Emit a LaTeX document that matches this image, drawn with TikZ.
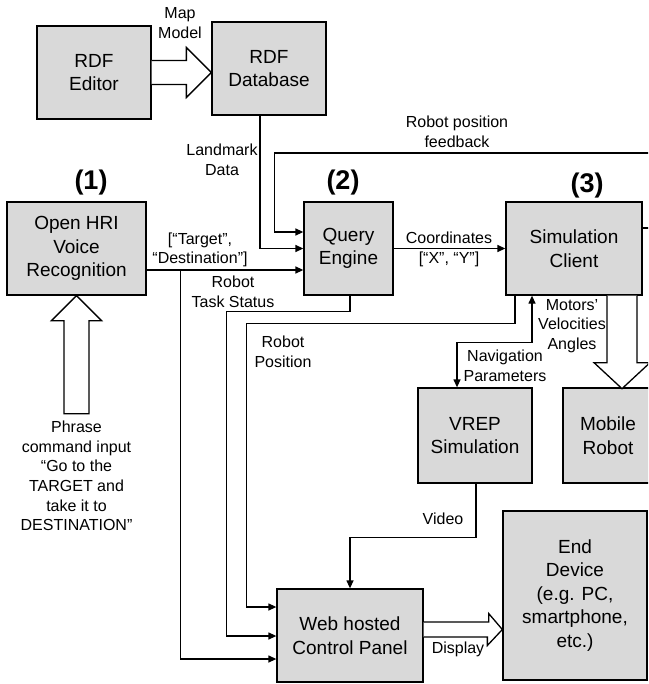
\documentclass[tikz,border=0pt]{standalone}
\usepackage{fontspec}
\setmainfont{Liberation Sans}
\usetikzlibrary{arrows.meta,calc}
\definecolor{boxgray}{HTML}{D9D9D9}
\begin{document}
\begin{tikzpicture}[x=1pt,y=-1pt,
 box/.style={draw,fill=boxgray,line width=1.3pt,align=center,font=\fontsize{19}{23.5}\selectfont,inner sep=0pt},
 lab/.style={align=center,font=\fontsize{16}{19.6}\selectfont,inner sep=0pt},
 num/.style={font=\fontsize{27}{30}\selectfont\bfseries,inner sep=0pt},
 conn/.style={line width=1.3pt,-{Triangle[length=8pt,width=7pt]}},
 hollow/.style={draw,fill=white,line width=1.3pt,line join=miter}]
\useasboundingbox (0,0) rectangle (648,684);
\clip (0,0) rectangle (648,684);
\fill[white] (0,0) rectangle (648,684);

% boxes
\node[box,minimum width=114pt,minimum height=93pt] (ed) at (94,72.5) {RDF\\Editor};
\node[box,minimum width=114pt,minimum height=93pt] (db) at (269,68.5) {RDF\\Database};
\node[box,minimum width=139pt,minimum height=93pt] (hri) at (76.5,248.5) {Open HRI\\Voice\\Recognition};
\node[box,minimum width=89pt,minimum height=93pt] (qe) at (348.5,248.5) {Query\\Engine};
\node[box,minimum width=136pt,minimum height=93pt] (sc) at (574,248.5) {Simulation\\Client};
\node[box,minimum width=114pt,minimum height=95pt] (vrep) at (475,435.5) {VREP\\Simulation};
\node[box,minimum width=90pt,minimum height=95pt] (mr) at (608,435.5) {Mobile\\Robot};
\node[box,minimum width=146pt,minimum height=93pt] (web) at (350,635.5) {Web hosted\\Control Panel};
\node[box,minimum width=144pt,minimum height=169pt] (end) at (575,595.5) {End\\Device\\(e.g. PC,\\smartphone,\\etc.)};

% phrase text
\node[lab,anchor=north] (ph) at (76.5,421) {Phrase\\command input\\“Go to the\\TARGET and\\take it to\\DESTINATION”};

% hollow arrows
\draw[hollow] ($(ed.east)+(0,-12)$) -- ($(db.west|-ed.east)+(-25,-12)$) -- ++(0,-13) -- (db.west|-ed.east) -- ++(-25,25) -- ++(0,-13) -- ($(ed.east)+(0,12)$);
\draw[hollow] ($(hri.south)+(-12.5,118)$) -- ++(0,-93) -- ++(-12.5,0) -- (hri.south) -- ++(25,25) -- ++(-12.5,0) -- ++(0,93) -- cycle;
\draw[hollow] ($(sc.south)+(33,0)$) -- ++(0,67) -- ++(-13,0) -- ($(sc.south)+(48,93)$) -- ++(28,-26) -- ++(-13,0) -- ($(sc.south)+(63,0)$);
\draw[hollow] ($(web.east)+(0,-13.5)$) -- ++(65,0) -- ++(0,-8.5) -- ($(end.west|-web.east)+(0,-6)$) -- ++(-15,16) -- ++(0,-8.5) -- ($(web.east)+(0,1.5)$);

% thin connectors
\draw[conn] ($(db.south)+(-9,0)$) |- (qe.west);
\draw[conn] ($(sc.east)+(0,-20.5)$) -- ++(18,0) -- ++(0,-75) -| ($(qe.west)+(-29,-16.5)$) -- ($(qe.west)+(0,-16.5)$);
\draw[conn] ($(hri.east)+(0,21.5)$) -- ($(qe.west)+(0,21.5)$);
\draw[conn] ($(hri.east)+(34,21.5)$) |- ($(web.west)+(0,23.5)$);
\draw[conn] ($(qe.south)+(1.5,0)$) -- ++(0,16) -| ($(web.west)+(-50,0.5)$) -- ($(web.west)+(0,0.5)$);
\draw[conn] ($(sc.south)+(-59,0)$) -- ++(0,28) -| ($(web.west)+(-30,-28.5)$) -- ($(web.west)+(0,-28.5)$);
\draw[conn] (qe.east) -- (sc.west);
\draw[line width=1.3pt,{Triangle[length=8pt,width=7pt]}-{Triangle[length=8pt,width=7pt]}] ($(sc.south)+(-42,0)$) -- ++(0,47) -| ($(vrep.north)+(-18,0)$);
\draw[conn] ($(vrep.south)+(1,0)$) -- ++(0,54) -| (web.north);

% labels
\node[lab] (lmap) at (180,23) {Map\\Model};
\node[lab] (llm) at (222,160) {Landmark\\Data};
\node[lab] (lfb) at (457,131.5) {Robot position\\feedback};
\node[lab] (ltd) at (200,250) {[“Target”,\\“Destination”]};
\node[lab] (lts) at (233,292) {Robot\\Task Status};
\node[lab] (lrp) at (283,352) {Robot\\Position};
\node[lab] (lco) at (449,238) {Coordinates};
\node[lab] (lxy) at (449,259) {[“X”, “Y”]};
\node[lab] (lnav) at (505,365.5) {Navigation\\Parameters};
\node[lab] (lmot) at (572,326) {Motors’\\Velocities\\Angles};
\node[lab] (lvid) at (443,519) {Video};
\node[lab] (ldis) at (458,649) {Display};
\node[num] (n1) at (91,183) {(1)};
\node[num] (n2) at (343,183) {(2)};
\node[num] (n3) at (587,186) {(3)};
\end{tikzpicture}
\end{document}
